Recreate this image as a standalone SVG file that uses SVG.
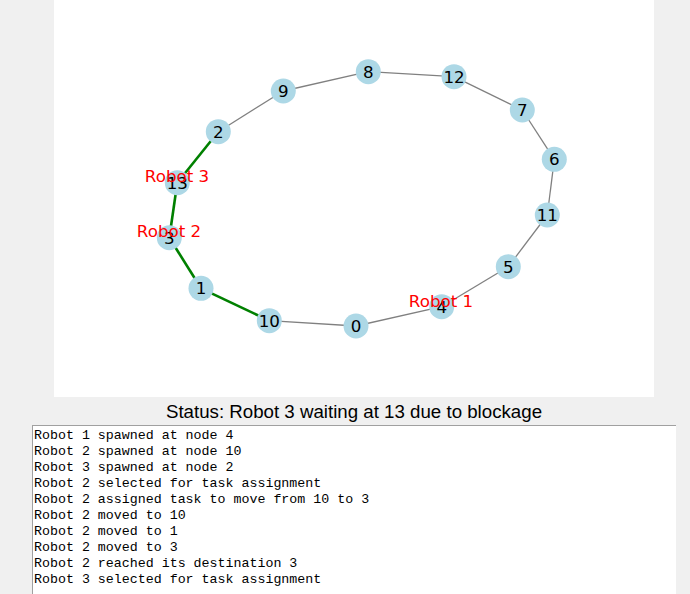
<svg xmlns="http://www.w3.org/2000/svg" width="690" height="594" viewBox="0 0 690 594">
<style>
.edge{stroke:#808080;stroke-width:1.3;fill:none}
.path{stroke:#008000;stroke-width:2.6;fill:none}
.node circle{fill:#add8e6}
.node text{font-family:"DejaVu Sans",sans-serif;font-size:16.7px;fill:#000;text-anchor:middle}
.robot{font-family:"DejaVu Sans",sans-serif;font-size:16.7px;fill:#ff0000;text-anchor:middle}
.log{font-family:"Liberation Mono","Courier New",monospace;font-size:13.3px;fill:#000}
.status{font-family:"Liberation Sans",Arial,sans-serif;font-size:18.7px;fill:#000;text-anchor:middle}
</style>
<rect x="0" y="0" width="690" height="594" fill="#f0f0f0"/>
<rect x="54" y="0" width="600" height="397" fill="#ffffff"/>
<g id="connectors">
<line class="edge" x1="356" y1="326" x2="269.3" y2="320.7"/>
<line class="edge" x1="356" y1="326" x2="441.7" y2="306.7"/>
<line class="edge" x1="441.7" y1="306.7" x2="508.3" y2="266.7"/>
<line class="edge" x1="508.3" y1="266.7" x2="547.3" y2="215"/>
<line class="edge" x1="547.3" y1="215" x2="554.3" y2="159.3"/>
<line class="edge" x1="554.3" y1="159.3" x2="522.3" y2="110"/>
<line class="edge" x1="522.3" y1="110" x2="454" y2="76.7"/>
<line class="edge" x1="454" y1="76.7" x2="368.3" y2="71.7"/>
<line class="edge" x1="368.3" y1="71.7" x2="283.3" y2="91"/>
<line class="edge" x1="283.3" y1="91" x2="218.3" y2="131.7"/>
<line class="path" x1="218.3" y1="131.7" x2="177.3" y2="182.7"/>
<line class="path" x1="177.3" y1="182.7" x2="169.3" y2="237.7"/>
<line class="path" x1="169.3" y1="237.7" x2="201" y2="288.3"/>
<line class="path" x1="201" y1="288.3" x2="269.3" y2="320.7"/>
</g>
<g id="node-0" class="node"><circle cx="356" cy="326" r="12.5"/><text x="356" y="331.8">0</text></g>
<g id="node-1" class="node"><circle cx="201" cy="288.3" r="12.5"/><text x="201" y="294.1">1</text></g>
<g id="node-2" class="node"><circle cx="218.3" cy="131.7" r="12.5"/><text x="218.3" y="137.5">2</text></g>
<g id="node-3" class="node"><circle cx="169.3" cy="237.7" r="12.5"/><text x="169.3" y="243.5">3</text></g>
<g id="node-4" class="node"><circle cx="441.7" cy="306.7" r="12.5"/><text x="441.7" y="312.5">4</text></g>
<g id="node-5" class="node"><circle cx="508.3" cy="266.7" r="12.5"/><text x="508.3" y="272.5">5</text></g>
<g id="node-6" class="node"><circle cx="554.3" cy="159.3" r="12.5"/><text x="554.3" y="165.1">6</text></g>
<g id="node-7" class="node"><circle cx="522.3" cy="110" r="12.5"/><text x="522.3" y="115.8">7</text></g>
<g id="node-8" class="node"><circle cx="368.3" cy="71.7" r="12.5"/><text x="368.3" y="77.5">8</text></g>
<g id="node-9" class="node"><circle cx="283.3" cy="91" r="12.5"/><text x="283.3" y="96.8">9</text></g>
<g id="node-10" class="node"><circle cx="269.3" cy="320.7" r="12.5"/><text x="269.3" y="326.5">10</text></g>
<g id="node-11" class="node"><circle cx="547.3" cy="215" r="12.5"/><text x="547.3" y="220.8">11</text></g>
<g id="node-12" class="node"><circle cx="454" cy="76.7" r="12.5"/><text x="454" y="82.5">12</text></g>
<g id="node-13" class="node"><circle cx="177.3" cy="182.7" r="12.5"/><text x="177.3" y="188.5">13</text></g>
<g id="robot-labels">
<text class="robot" x="177" y="182">Robot 3</text>
<text class="robot" x="169" y="236.7">Robot 2</text>
<text class="robot" x="441" y="306.5">Robot 1</text>
</g>
<text class="status" x="354" y="417.5">Status: Robot 3 waiting at 13 due to blockage</text>
<g id="log">
<rect x="32" y="425" width="644" height="169" fill="#ffffff"/>
<line x1="32" y1="425.5" x2="676" y2="425.5" stroke="#a0a0a0" stroke-width="1"/>
<line x1="32.5" y1="425" x2="32.5" y2="594" stroke="#a0a0a0" stroke-width="1"/>
<text class="log" x="34" y="439">Robot 1 spawned at node 4</text>
<text class="log" x="34" y="455">Robot 2 spawned at node 10</text>
<text class="log" x="34" y="471">Robot 3 spawned at node 2</text>
<text class="log" x="34" y="487">Robot 2 selected for task assignment</text>
<text class="log" x="34" y="503">Robot 2 assigned task to move from 10 to 3</text>
<text class="log" x="34" y="519">Robot 2 moved to 10</text>
<text class="log" x="34" y="535">Robot 2 moved to 1</text>
<text class="log" x="34" y="551">Robot 2 moved to 3</text>
<text class="log" x="34" y="567">Robot 2 reached its destination 3</text>
<text class="log" x="34" y="583">Robot 3 selected for task assignment</text>
</g>
</svg>
